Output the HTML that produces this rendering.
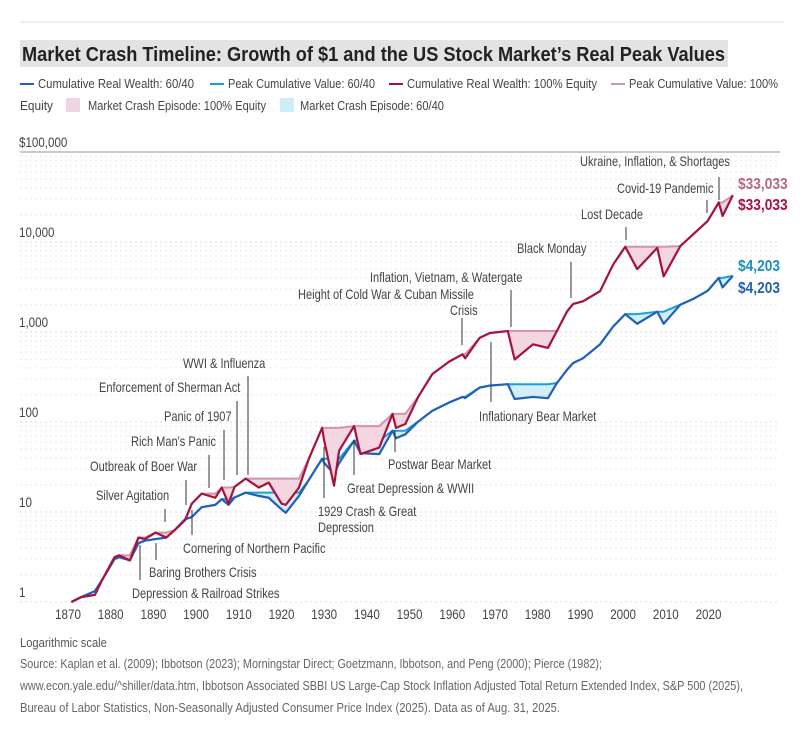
<!DOCTYPE html>
<html><head><meta charset="utf-8"><style>
body{margin:0;background:#fff;width:804px;height:733px;overflow:hidden;font-family:"Liberation Sans",sans-serif;}
svg text{font-family:"Liberation Sans",sans-serif;}
</style></head><body>
<svg id="chart" width="804" height="733" viewBox="0 0 804 733" xmlns="http://www.w3.org/2000/svg">
<line x1="20" y1="22" x2="784" y2="22" stroke="#ddd" stroke-width="1"/>
<rect x="20" y="40" width="708" height="27" fill="#e3e3e3"/>
<text x="22" y="61" font-size="20" font-weight="bold" fill="#222" textLength="703" lengthAdjust="spacingAndGlyphs">Market Crash Timeline: Growth of $1 and the US Stock Market’s Real Peak Values</text>
<g font-size="13" fill="#444">
 <line x1="20" y1="84" x2="34" y2="84" stroke="#2260b8" stroke-width="2"/><text x="38" y="88" textLength="156" lengthAdjust="spacingAndGlyphs">Cumulative Real Wealth: 60/40</text>
 <line x1="210" y1="84" x2="224" y2="84" stroke="#1aa0d8" stroke-width="2"/><text x="228" y="88" textLength="147" lengthAdjust="spacingAndGlyphs">Peak Cumulative Value: 60/40</text>
 <line x1="389" y1="84" x2="403" y2="84" stroke="#a6123f" stroke-width="2"/><text x="407" y="88" textLength="190" lengthAdjust="spacingAndGlyphs">Cumulative Real Wealth: 100% Equity</text>
 <line x1="611" y1="84" x2="625" y2="84" stroke="#d095a7" stroke-width="2"/><text x="629" y="88" textLength="149" lengthAdjust="spacingAndGlyphs">Peak Cumulative Value: 100%</text>
 <text x="20" y="110" textLength="33" lengthAdjust="spacingAndGlyphs">Equity</text>
 <rect x="66" y="98" width="14" height="14" fill="#f0d6e4"/><text x="88" y="110" textLength="178" lengthAdjust="spacingAndGlyphs">Market Crash Episode: 100% Equity</text>
 <rect x="280" y="98" width="14" height="14" fill="#cdeef8"/><text x="300" y="110" textLength="144" lengthAdjust="spacingAndGlyphs">Market Crash Episode: 60/40</text>
</g>
<g id="grid"></g>
<g id="yaxis" font-size="13.5" fill="#444"></g>
<g id="xaxis" font-size="13.5" fill="#444"></g>
<g id="series"></g>
<g id="annot" font-size="13.5" fill="#444"></g>
<g id="endlabels" font-size="16" font-weight="bold">
 <text x="738" y="189" fill="#b5687f">$33,033</text>
 <text x="738" y="210" fill="#a6123f">$33,033</text>
 <text x="738" y="271" fill="#1a8fc1">$4,203</text>
 <text x="738" y="293" fill="#2260b8">$4,203</text>
</g>
<text id="scalenote" x="20" y="647" font-size="13" fill="#555">Logarithmic scale</text>
<g font-size="12.5" fill="#666">
 <text x="20" y="668" textLength="582" lengthAdjust="spacingAndGlyphs">Source: Kaplan et al. (2009); Ibbotson (2023); Morningstar Direct; Goetzmann, Ibbotson, and Peng (2000); Pierce (1982);</text>
 <text x="20" y="690" textLength="723" lengthAdjust="spacingAndGlyphs">www.econ.yale.edu/^shiller/data.htm, Ibbotson Associated SBBI US Large-Cap Stock Inflation Adjusted Total Return Extended Index, S&amp;P 500 (2025),</text>
 <text x="20" y="712" textLength="540" lengthAdjust="spacingAndGlyphs">Bureau of Labor Statistics, Non-Seasonally Adjusted Consumer Price Index (2025). Data as of Aug. 31, 2025.</text>
</g>
</svg>
<script>
const years=[1870.8,1873,1876.3,1878,1880.9,1882,1884.5,1886.5,1888,1890.5,1893,1895,1897.4,1899,1901.3,1904.5,1906,1907.6,1909,1911.6,1914.7,1917,1920,1921,1924.1,1926.4,1929.5,1930,1932.3,1933.5,1937,1938.5,1942.9,1946,1946.8,1949,1952,1955.3,1959.3,1962.4,1963,1966.4,1968.8,1973,1974.6,1978.9,1982.4,1984.5,1986.9,1988.3,1990.6,1994.6,1997.7,2000.5,2003.3,2008,2009.5,2013.4,2016.5,2019.8,2022.4,2023.3,2025.7];
const equityValues=[1.0,1.13,1.2,1.76,3.15,3.3,2.9,5.2,5.0,5.9,5.2,6.3,8.1,12.4,16,14.4,18.7,12.4,19,23.5,18.7,21.2,12.4,12,18.7,39,86,62,19.6,48,90,44,52,123,86,95,190,340,470,565,510,860,975,1025,495,730,665,1025,1700,2050,2190,2840,5650,8850,5000,8600,4150,9000,12300,17100,27500,19500,33033];
const balancedValues=[1.0,1.13,1.32,1.76,3.0,3.15,2.9,4.5,4.8,5.0,5.2,6.3,8.3,8.8,11.3,12,13.9,12,14.5,16.4,15.1,14.4,10.7,9.8,15.1,22.7,39,35,26.5,35,62,45,44,80,66,73,101,133,165,190,184,241,254,263,180,190,184,271,382,452,510,730,1155,1580,1235,1680,1235,2010,2340,2870,3990,3130,4203];
const yTickValues=[1,10,100,1000,10000,100000];
const yTickLabels=["1","10","100","1,000","10,000","$100,000"];
const xTickYears=[1870,1880,1890,1900,1910,1920,1930,1940,1950,1960,1970,1980,1990,2000,2010,2020];

const NS="http://www.w3.org/2000/svg";
const X=yr=>68+(yr-1870)*4.27;
const Y=v=>602-90*Math.log10(v);
function mk(tag,attrs,parent){const e=document.createElementNS(NS,tag);for(const k in attrs)e.setAttribute(k,attrs[k]);parent.appendChild(e);return e;}
function condense(el,s){const x=parseFloat(el.getAttribute('x'));el.setAttribute('transform','translate('+(x*(1-s))+',0) scale('+s+',1)');}

const grid=document.getElementById('grid');
for(let d=0;d<5;d++){for(let m=1;m<=9;m++){const v=m*Math.pow(10,d);const y=Y(v);
 const l=mk('line',{x1:20,x2:780,y1:y,y2:y,stroke:m===1?'#d8d8d8':'#e8e8e8','stroke-width':1,'stroke-dasharray':'2,3'},grid);
 
 
}}
const topRule=mk('line',{x1:20,x2:780,y1:Y(100000),y2:Y(100000),stroke:'#aaa','stroke-width':1.2},grid);



const yax=document.getElementById('yaxis');
yTickValues.forEach((v,i)=>{const t=mk('text',{x:19,y:Y(v)-5},yax);t.textContent=yTickLabels[i];
 
 
 condense(t,0.86);});
const xax=document.getElementById('xaxis');
xTickYears.forEach(yr=>{
 const t=mk('text',{x:X(yr),y:619,'text-anchor':'middle'},xax);t.textContent=yr;
 
 
 condense(t,0.86);});

const ser=document.getElementById('series');
function drawSeries(vals,fill,peakColor,lineColor,name){
 const peaks=[];let m=0;vals.forEach(v=>{m=Math.max(m,v);peaks.push(m);});
 const vp=vals.map((v,i)=>[X(years[i]),Y(v)]);
 const pp=peaks.map((v,i)=>[X(years[i]),Y(v)]);
 const area=mk('path',{d:'M'+pp.map(p=>p.join(',')).join('L')+'L'+vp.slice().reverse().map(p=>p.join(',')).join('L')+'Z',fill:fill},ser);
 
 
 const pk=mk('path',{d:'M'+pp.map(p=>p.join(',')).join('L'),fill:'none',stroke:peakColor,'stroke-width':2},ser);
 
 
 const ln=mk('path',{d:'M'+vp.map(p=>p.join(',')).join('L'),fill:'none',stroke:lineColor,'stroke-width':2.2,'stroke-linejoin':'round'},ser);
 
 
}
drawSeries(balancedValues,'#d4eef8','#1aa0d8','#2260b8','balanced-6040');
drawSeries(equityValues,'#f3d6df','#d095a7','#a6123f','equity');

const annotations=[
 [["Ukraine, Inflation, & Shortages"],[580],166,719,177,200],
 [["Covid-19 Pandemic"],[617],193,707,200,213],
 [["Lost Decade"],[581],219,626,227,240],
 [["Black Monday"],[517],253,571,262,298],
 [["Inflation, Vietnam, & Watergate"],[370],282,511,290,327],
 [["Height of Cold War & Cuban Missile","Crisis"],[298,450],299,462,318,345],
 [["Inflationary Bear Market"],[479],421,491,342,402],
 [["Postwar Bear Market"],[388],469,395,430,452],
 [["Great Depression & WWII"],[347],493,354,440,475],
 [["1929 Crash & Great","Depression"],[318,318],516,324,447,498],
 [["WWI & Influenza"],[183],368,248,376,475],
 [["Enforcement of Sherman Act"],[99],392,237,401,475],
 [["Panic of 1907"],[164],421,224,430,480],
 [["Rich Man's Panic"],[131],446,209,455,488],
 [["Outbreak of Boer War"],[90],471,186,480,505],
 [["Silver Agitation"],[96],500,165,509,522],
 [["Cornering of Northern Pacific"],[183],553,192,510,535],
 [["Baring Brothers Crisis"],[149],577,156,543,560],
 [["Depression & Railroad Strikes"],[132],598,140,545,580]
];
const an=document.getElementById('annot');
annotations.forEach(a=>{
 const l=mk('line',{x1:a[3],x2:a[3],y1:a[4],y2:a[5],stroke:'#333','stroke-width':1},an);
 
 
 a[0].forEach((s,i)=>{
  const t=mk('text',{x:a[1][i],y:a[2]+i*16},an);t.textContent=s;
  
  
  condense(t,0.82);
 });
});
document.querySelectorAll('#endlabels text').forEach(t=>condense(t,0.86));
condense(document.getElementById('scalenote'),0.86);
</script>
</body></html>
